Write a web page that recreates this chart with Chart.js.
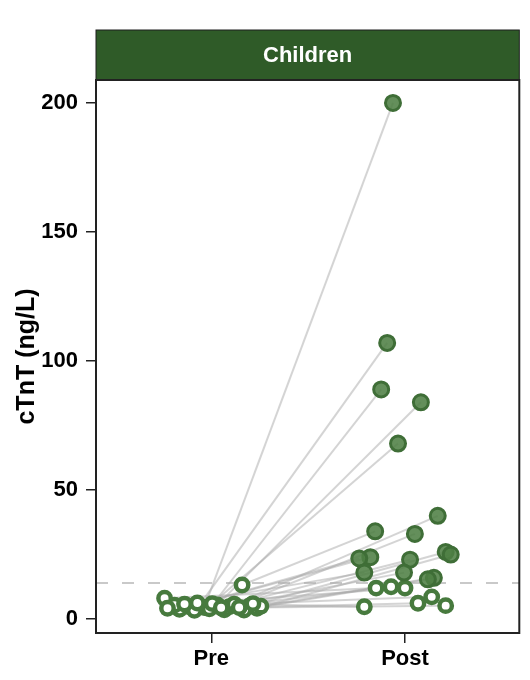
<!DOCTYPE html>
<html>
<head>
<meta charset="utf-8">
<script src="https://cdn.jsdelivr.net/npm/chart.js@4/dist/chart.umd.min.js"></script>
<style>
html,body{margin:0;padding:0;background:#fff;}
#wrap{width:530px;height:680px;}
</style>
</head>
<body>
<div id="wrap"><canvas id="c" width="530" height="680"></canvas></div>
<script>
// ---- data ----
const panelTitle = "Children";
const categories = ["Pre", "Post"];
const yTicks = [0, 50, 100, 150, 200];
const threshold = 14;
// jittered x positions on the category axis (Pre = 1, Post = 2)
const preX  = [0.964,0.938,0.990,1.031,1.005,1.092,1.159,1.067,1.195,1.236,0.887,0.836,1.118,0.810,1.051,1.256,1.169,0.913,0.759,0.862,1.215,1.144,0.774,0.928];
const preY  = [4.5,5.2,4.0,5.5,6.0,4.8,13.2,3.6,5.0,4.2,4.8,3.8,5.8,5.4,4.4,5.0,3.5,3.4,8.1,5.8,6.0,4.5,4.2,6.2];
const postX = [1.938,1.908,1.877,2.082,1.964,2.169,1.846,2.051,2.210,2.236,1.821,1.764,2.026,1.790,1.995,2.149,2.118,1.928,1.851,2.000,2.138,2.067,2.210,1.790];
const postY = [200,107,89,84,68,40,34,33,26,25,24,23.5,23,18,18,16,15.4,12.5,12,12,8.6,6.1,5.2,4.8];

const GREEN = '#477a3e';
const FILL = 'rgba(78,128,68,0.88)';
const HEADER = '#2f5b28';
const FAMILY = '"Liberation Sans", Arial, Helvetica, sans-serif';

const datasets = [];
datasets.push({
  type:'scatter', order:0,
  data: postX.map((x,i)=>({x:x,y:postY[i]})).filter(p=>p.y>threshold),
  backgroundColor: FILL, borderColor: '#3f6e37', borderWidth: 3, pointRadius: 7.5
});
datasets.push({
  type:'scatter', order:0,
  data: postX.map((x,i)=>({x:x,y:postY[i]})).filter(p=>p.y<=threshold),
  backgroundColor: '#ffffff', borderColor: GREEN, borderWidth: 4.5, pointRadius: 6.2
});
datasets.push({
  type:'scatter', order:0,
  data: preX.map((x,i)=>({x:x,y:preY[i]})),
  backgroundColor: '#ffffff', borderColor: GREEN, borderWidth: 4.5, pointRadius: 6.2
});
preX.forEach((x,i)=>{
  datasets.push({
    type:'line', order:5,
    data:[{x:x,y:preY[i]},{x:postX[i],y:postY[i]}],
    borderColor:'rgba(170,170,170,0.5)', borderWidth:2, pointRadius:0, fill:false
  });
});
const X_MIN = 0.405, X_MAX = 2.59;
datasets.push({
  type:'line', order:6,
  data:[{x:X_MIN,y:threshold},{x:X_MAX,y:threshold}],
  borderColor:'#c9c9c9', borderWidth:2, borderDash:[12,14], pointRadius:0, fill:false
});

const framePlugin = {
  id:'frame',
  beforeDraw(chart){
    const ctx = chart.ctx, a = chart.chartArea;
    ctx.save();
    ctx.fillStyle = HEADER;
    ctx.fillRect(a.left, 30, a.right - a.left, a.top - 30);
    ctx.strokeStyle = '#1e1e1e';
    ctx.lineWidth = 1;
    ctx.strokeRect(a.left, 30, a.right - a.left, a.top - 30);
    ctx.fillStyle = '#ffffff';
    ctx.font = 'bold 22px ' + FAMILY;
    ctx.textAlign = 'center';
    ctx.textBaseline = 'middle';
    ctx.fillText(panelTitle, (a.left + a.right)/2, (30 + a.top)/2 + 1);
    ctx.restore();
  },
  afterDraw(chart){
    const ctx = chart.ctx, a = chart.chartArea;
    ctx.save();
    ctx.strokeStyle = '#222';
    ctx.lineWidth = 2;
    ctx.strokeRect(a.left, a.top, a.right - a.left, a.bottom - a.top);
    ctx.restore();
  }
};

const FONT = {family:FAMILY, size:22, weight:'bold'};

new Chart(document.getElementById('c'), {
  type:'scatter',
  data:{datasets:datasets},
  options:{
    responsive:false,
    animation:false,
    layout:{padding:{top:80, right:8, left:0, bottom:0}},
    plugins:{legend:{display:false}, tooltip:{enabled:false}},
    scales:{
      x:{
        type:'linear', min:X_MIN, max:X_MAX,
        afterBuildTicks(s){ s.ticks = [{value:1},{value:2}]; },
        afterFit(s){ s.height = 47; },
        ticks:{ callback:(v)=>categories[Math.round(v)-1] || '', color:'#000', font:FONT, padding:3, maxRotation:0, autoSkip:false },
        grid:{ drawOnChartArea:false, tickLength:10, color:'#222', lineWidth:1.5 },
        border:{ display:false }
      },
      y:{
        type:'linear', min:-5.4, max:208.9,
        afterBuildTicks(s){ s.ticks = yTicks.map(v=>({value:v})); },
        afterFit(s){ s.width = 96; },
        ticks:{ color:'#000', font:FONT, padding:8 },
        grid:{ drawOnChartArea:false, tickLength:10, color:'#222', lineWidth:1.5 },
        border:{ display:false },
        title:{ display:true, text:'cTnT (ng/L)', color:'#000', font:{family:FAMILY, size:25, weight:'bold'}, padding:{top:12, bottom:0} }
      }
    }
  },
  plugins:[framePlugin]
});
</script>
</body>
</html>
